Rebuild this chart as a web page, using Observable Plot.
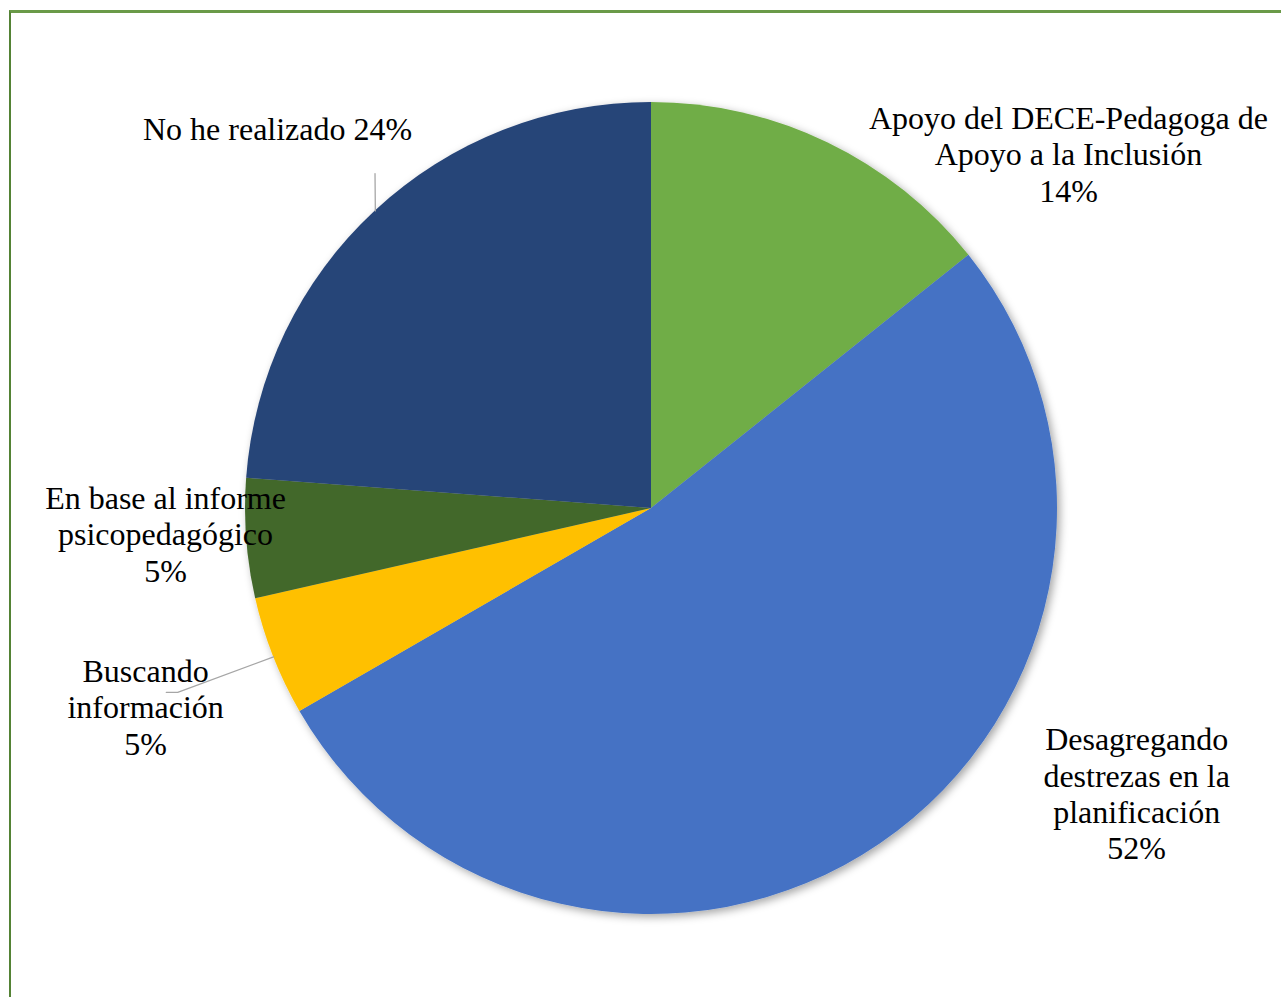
<!DOCTYPE html>
<html>
<head>
<meta charset="utf-8">
<script src="https://cdn.jsdelivr.net/npm/d3@7"></script>
<script src="https://cdn.jsdelivr.net/npm/@observablehq/plot@0.6"></script>
<style>
  html, body { margin: 0; padding: 0; background: #fff; }
  #wrap { position: relative; width: 1281px; height: 997px; overflow: hidden; }
  #frame { position: absolute; left: 9px; top: 10px; width: 1300px; height: 1000px;
           border-left: 2px solid #548235; border-top: 3px solid #6a9a48; box-sizing: border-box; }
  #chart { position: absolute; left: 0; top: 0; }
</style>
</head>
<body>
<div id="wrap"><div id="frame"></div><div id="chart"></div></div>
<script>
// ---- data ----
const categories = [
  "Apoyo del DECE-Pedagoga de\nApoyo a la Inclusión",
  "Desagregando\ndestrezas en la\nplanificación",
  "Buscando\ninformación",
  "En base al informe\npsicopedagógico",
  "No he realizado"
];
const counts = [3, 11, 1, 1, 5];
const percentLabels = ["14%", "52%", "5%", "5%", "24%"];
const colors = ["#70AD47", "#4472C4", "#FFC000", "#43682B", "#264478"];

// ---- label layout (pie-radius units, x right, y up) ----
const labelX = [1.027, 1.195, -1.246, -1.197, -0.921];
const labelY = [0.874, -0.701, -0.488, -0.0615, 0.936];
const sameLine = [false, false, false, false, true];
// leader line bend/end points (pie units), null = no leader
const leaderPoints = [null, null, [[-1.167, -0.453], [-1.195, -0.453]], null, [[-0.681, 0.825]]];

// ---- computations ----
const pie = d3.pie().sort(null).value(d => d)(counts);
const arcsData = pie.map((p, i) => ({...p, i}));
const textData = categories.map((c, i) => ({
  text: sameLine[i] ? c + " " + percentLabels[i] : c + "\n" + percentLabels[i],
  x: labelX[i], y: labelY[i]
}));
const leaders = [];
pie.forEach((p, i) => {
  if (!leaderPoints[i]) return;
  const mid = (p.startAngle + p.endAngle) / 2;
  leaders.push({g: i, x: Math.sin(mid), y: Math.cos(mid)});
  leaderPoints[i].forEach(([x, y]) => leaders.push({g: i, x, y}));
});

function pieMark(index, scales, values, dimensions) {
  const sx = scales.x, sy = scales.y;
  const cx = sx(0), cy = sy(0);
  const r = Math.abs(sx(1) - sx(0));
  const ns = "http://www.w3.org/2000/svg";
  const g = document.createElementNS(ns, "g");
  const defs = document.createElementNS(ns, "defs");
  defs.innerHTML = `<filter id="shadow" x="-10%" y="-10%" width="120%" height="120%">
     <feDropShadow dx="3" dy="3" stdDeviation="4" flood-color="#000" flood-opacity="0.35"/></filter>`;
  g.appendChild(defs);
  const inner = document.createElementNS(ns, "g");
  inner.setAttribute("transform", `translate(${cx},${cy})`);
  inner.setAttribute("filter", "url(#shadow)");
  const arc = d3.arc().innerRadius(0).outerRadius(r);
  arcsData.forEach(d => {
    const path = document.createElementNS(ns, "path");
    path.setAttribute("d", arc(d));
    path.setAttribute("fill", colors[d.i]);
    inner.appendChild(path);
  });
  g.appendChild(inner);
  return g;
}

const chart = Plot.plot({
  width: 1281,
  height: 997,
  margin: 0,
  x: {type: "linear", domain: [-1, 1], range: [245, 1057], axis: null},
  y: {type: "linear", domain: [1, -1], range: [102, 914], axis: null},
  style: {background: "transparent", overflow: "visible"},
  marks: [
    pieMark,
    Plot.line(leaders, {x: "x", y: "y", z: "g", stroke: "#A6A6A6", strokeWidth: 1.3}),
    Plot.text(textData, {
      x: "x", y: "y", text: "text",
      fontFamily: "'Liberation Serif', 'Times New Roman', serif",
      fontSize: 32, lineHeight: 1.14, fill: "#000", textAnchor: "middle", lineAnchor: "middle"
    })
  ]
});
document.getElementById("chart").appendChild(chart);
</script>
</body>
</html>
